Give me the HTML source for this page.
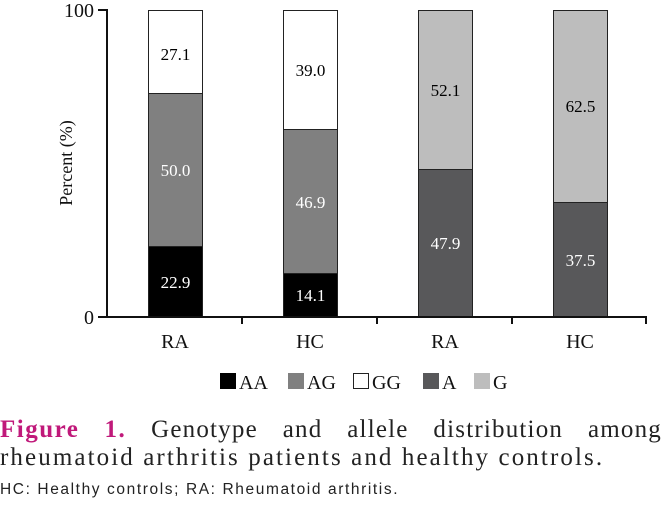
<!DOCTYPE html>
<html><head><style>
body{margin:0;background:#fff;width:662px;height:509px;overflow:hidden;font-family:"Liberation Serif",serif}
.l1{position:absolute;left:0;top:416px;width:662px;font-size:25px;line-height:28px;color:#222;text-align:justify;text-align-last:justify;white-space:nowrap;letter-spacing:1.2px}
.l2{position:absolute;left:0;top:444px;font-size:25px;line-height:28px;color:#222;letter-spacing:2.1px}
.l1 b{color:#c0197a;letter-spacing:1.5px}
.fn{position:absolute;left:0;top:481px;font-family:"Liberation Sans",sans-serif;font-size:15.5px;color:#222;letter-spacing:1.6px}
</style></head><body>
<svg width="662" height="410" style="position:absolute;left:0;top:0" font-family="Liberation Serif,serif">
<g stroke="#222" stroke-width="1">
<rect x="148.5" y="246.5" width="54" height="70.5" fill="#000"/>
<rect x="148.5" y="93.5" width="54" height="153" fill="#808080"/>
<rect x="148.5" y="10.5" width="54" height="83" fill="#fff"/>
<rect x="283.5" y="273.5" width="54" height="43.5" fill="#000"/>
<rect x="283.5" y="129.5" width="54" height="144" fill="#808080"/>
<rect x="283.5" y="10.5" width="54" height="119" fill="#fff"/>
<rect x="418.5" y="169.5" width="54" height="147.5" fill="#58585a"/>
<rect x="418.5" y="10.5" width="54" height="159" fill="#bdbdbd"/>
<rect x="553.5" y="202.5" width="54" height="114.5" fill="#58585a"/>
<rect x="553.5" y="10.5" width="54" height="192" fill="#bdbdbd"/>
</g>
<g stroke="#111" stroke-width="2" fill="none">
<path d="M98 10H107V317H646V324M242 317V324M377 317V324M512 317V324M98 317H107"/>
</g>
<g font-size="17" text-anchor="middle">
<text x="175.5" y="60" fill="#000">27.1</text>
<text x="175.5" y="176" fill="#fff">50.0</text>
<text x="175.5" y="288" fill="#fff">22.9</text>
<text x="310.5" y="76" fill="#000">39.0</text>
<text x="310.5" y="208" fill="#fff">46.9</text>
<text x="310.5" y="301" fill="#fff">14.1</text>
<text x="445.5" y="96" fill="#000">52.1</text>
<text x="445.5" y="249" fill="#fff">47.9</text>
<text x="580.5" y="112" fill="#000">62.5</text>
<text x="580.5" y="266" fill="#fff">37.5</text>
</g>
<g font-size="20" fill="#111">
<text x="94" y="17" text-anchor="end">100</text>
<text x="94" y="324" text-anchor="end">0</text>
<text x="175" y="348" text-anchor="middle">RA</text>
<text x="310" y="348" text-anchor="middle">HC</text>
<text x="445" y="348" text-anchor="middle">RA</text>
<text x="580" y="348" text-anchor="middle">HC</text>
<text transform="translate(72,163) rotate(-90)" text-anchor="middle" font-size="18">Percent (%)</text>
<rect x="220" y="373" width="16" height="16" fill="#000"/><text x="239" y="389">AA</text>
<rect x="288" y="373" width="16" height="16" fill="#808080"/><text x="307" y="389">AG</text>
<rect x="353.5" y="373.5" width="15" height="15" fill="#fff" stroke="#222"/><text x="372" y="389">GG</text>
<rect x="423" y="373" width="16" height="16" fill="#58585a"/><text x="442" y="389">A</text>
<rect x="474" y="373" width="16" height="16" fill="#bdbdbd"/><text x="493" y="389">G</text>
</g>
</svg>
<div class="l1"><b>Figure 1.</b> Genotype and allele distribution among</div>
<div class="l2">rheumatoid arthritis patients and healthy controls.</div>
<div class="fn">HC: Healthy controls; RA: Rheumatoid arthritis.</div>
</body></html>
